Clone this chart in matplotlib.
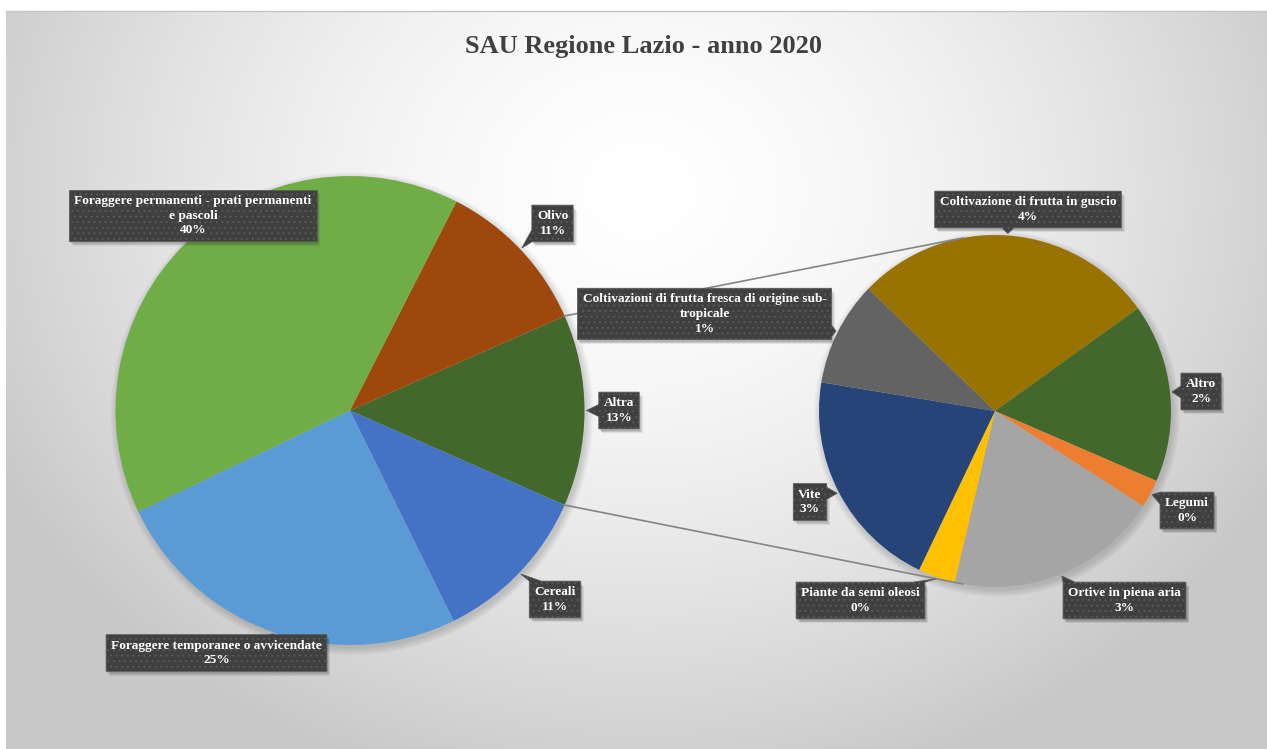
import numpy as np
import matplotlib.pyplot as plt
from matplotlib.patches import Polygon, Circle, Rectangle

# SAU del Lazio, quota % sul totale regionale
main_names = ["Olivo",
              "Foraggere permanenti - prati permanenti\ne pascoli",
              "Foraggere temporanee o avvicendate",
              "Cereali"]
main_values = [10.9, 39.6, 25.2, 11.1]
main_colors = ["#9E480E", "#70AD47", "#5B9BD5", "#4472C4"]

# dettaglio della voce "Altra" (secondo grafico)
sub_names = ["Coltivazione di frutta in guscio",
             "Altro",
             "Legumi",
             "Ortive in piena aria",
             "Piante da semi oleosi",
             "Vite",
             "Coltivazioni di frutta fresca di origine sub-\ntropicale"]
sub_values = [3.68, 2.17, 0.34, 2.59, 0.45, 2.71, 1.27]
sub_colors = ["#997300", "#43682B", "#ED7D31", "#A5A5A5", "#FFC000", "#264478", "#636363"]

altra_name = "Altra"
altra_value = sum(sub_values)
altra_color = "#43682B"

title = "SAU Regione Lazio - anno 2020"

# ---- layout (pixel, origine in alto a sinistra) ----
W, H = 1267, 749
c1, r1 = (350, 410.5), 234.5
c2, r2 = (995, 411), 176
main_label_pos = [(552.5, 223.5), (193, 215.5), (216.5, 653), (555, 599.5)]
altra_label_pos = (619, 410.5)
sub_label_pos = [(1028, 209.5), (1201, 391.5), (1187, 510.5), (1124.5, 600.5),
                 (860.5, 600.5), (810, 502), (704.5, 314)]
link_angles = (100.5, 259.5)

FONT = "Liberation Serif"
plt.rcParams["hatch.linewidth"] = 0.6


def up(p):
    return (p[0], H - p[1])


fig = plt.figure(figsize=(W / 100, H / 100), dpi=100)
ax = fig.add_axes([0, 0, 1, 1])
ax.set_xlim(0, W)
ax.set_ylim(0, H)
ax.axis("off")

# sfondo con gradiente radiale
gx, gy = np.meshgrid(np.arange(6, W), np.arange(11, H))
d = np.sqrt(((gx - 640) / 720.0) ** 2 + ((gy - 190) / 620.0) ** 2)
t = np.clip(d, 0, 1) ** 1.6
grey = 1.0 - 0.215 * t
bg = np.dstack([grey, grey, grey])
ax.imshow(bg, extent=(6, W, 0, H - 11), origin="upper", zorder=0, interpolation="bilinear")
ax.plot([6, W], [H - 11, H - 11], color="#c4c4c4", lw=1, zorder=0.5)

# ombra morbida sotto le torte
for (cc, rr) in [(c1, r1), (c2, r2)]:
    for k in range(8):
        ax.add_patch(Circle((cc[0] + 2, H - cc[1] - 3), rr + k, color="black",
                            alpha=0.02, lw=0, zorder=1))

wp = dict(linewidth=0)
w1, _ = ax.pie([altra_value] + main_values, colors=[altra_color] + main_colors,
               center=up(c1), radius=r1, startangle=-altra_value / 100 * 180,
               counterclock=True, frame=True, wedgeprops=wp)
w2, _ = ax.pie(sub_values, colors=sub_colors, center=up(c2), radius=r2,
               startangle=136, counterclock=False, frame=True, wedgeprops=wp)
for w in w1 + w2:
    w.set_zorder(2)
ax.set_xlim(0, W)
ax.set_ylim(0, H)
ax.set_aspect("equal")

# linee di collegamento tra "Altra" e il secondo grafico
a = w1[0]
for th_main, th_sub in zip((a.theta2, a.theta1), link_angles):
    p0 = (c1[0] + r1 * np.cos(np.radians(th_main)), H - c1[1] + r1 * np.sin(np.radians(th_main)))
    p1 = (c2[0] + r2 * np.cos(np.radians(th_sub)), H - c2[1] + r2 * np.sin(np.radians(th_sub)))
    ax.plot([p0[0], p1[0]], [p0[1], p1[1]], color="#858585", lw=1.2, zorder=3)


def tip_of(w, cx, cy, r):
    th = np.radians((w.theta1 + w.theta2) / 2)
    return (cx + (r + 2) * np.cos(th), H - cy + (r + 2) * np.sin(th))


def callout_pts(x0, y0, x1, y1, tip, half=6):
    tx, ty = tip
    cx, cy = (x0 + x1) / 2, (y0 + y1) / 2
    dx = (tx - cx) / ((x1 - x0) / 2)
    dy = (ty - cy) / ((y1 - y0) / 2)
    if max(abs(dx), abs(dy)) <= 1:
        return [(x0, y0), (x1, y0), (x1, y1), (x0, y1)]
    if abs(dx) >= abs(dy):
        m = np.clip(ty, y0 + half, y1 - half)
        if dx > 0:
            return [(x0, y0), (x1, y0), (x1, m - half), (tx, ty), (x1, m + half), (x1, y1), (x0, y1)]
        return [(x0, y0), (x1, y0), (x1, y1), (x0, y1), (x0, m + half), (tx, ty), (x0, m - half)]
    m = np.clip(tx, x0 + half, x1 - half)
    if dy > 0:
        return [(x0, y0), (x1, y0), (x1, y1), (m + half, y1), (tx, ty), (m - half, y1), (x0, y1)]
    return [(x0, y0), (m - half, y0), (tx, ty), (m + half, y0), (x1, y0), (x1, y1), (x0, y1)]


renderer = fig.canvas.get_renderer()
inv = ax.transData.inverted()


def callout(pos, text, tip):
    x, y = up(pos)
    txt = ax.text(x, y, text, ha="center", va="center", color="white", fontsize=9.6,
                  fontweight="bold", family=FONT, linespacing=1.3, zorder=7)
    bb = txt.get_window_extent(renderer)
    (bx0, by0), (bx1, by1) = inv.transform([(bb.x0, bb.y0), (bb.x1, bb.y1)])
    x0, x1 = bx0 - 5, bx1 + 5
    y0, y1 = by0 - 5, by1 + 5
    # ombra del riquadro
    for k in range(4):
        ax.add_patch(Rectangle((x0 + 1 + k * 0.8, y0 - 2 - k * 0.8), x1 - x0, y1 - y0,
                               color="black", alpha=0.07, lw=0, zorder=5))
    pts = callout_pts(x0, y0, x1, y1, tip)
    ax.add_patch(Polygon(pts, closed=True, facecolor="#404040", edgecolor="#5c5c5c",
                         lw=0.6, hatch="...", zorder=6))


for w, name, val, pos in zip(w1[1:], main_names, main_values, main_label_pos):
    callout(pos, f"{name}\n{round(val)}%", tip_of(w, c1[0], c1[1], r1))
callout(altra_label_pos, f"{altra_name}\n{round(altra_value)}%", tip_of(w1[0], c1[0], c1[1], r1))
for w, name, val, pos in zip(w2, sub_names, sub_values, sub_label_pos):
    callout(pos, f"{name}\n{round(val)}%", tip_of(w, c2[0], c2[1], r2))

ax.text(W / 2 + 10, H - 46, title, ha="center", va="center", fontsize=19,
        fontweight="bold", family=FONT, color="#404040", zorder=7)

fig.savefig("out.png", dpi=100)
